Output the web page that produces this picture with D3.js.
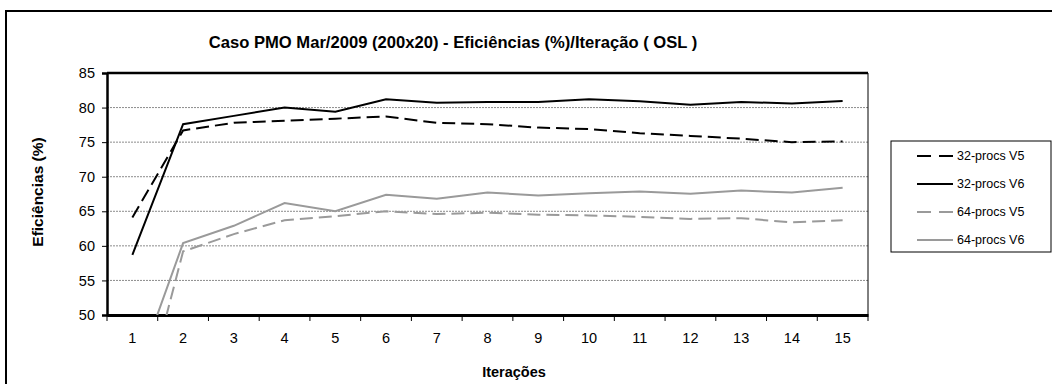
<!DOCTYPE html>
<html><head><meta charset="utf-8">
<script src="https://cdn.jsdelivr.net/npm/d3@7"></script>
<style>body{margin:0;background:#fff}svg{display:block;font-family:"Liberation Sans",Arial,sans-serif}</style>
</head><body><svg id="c" width="1052" height="384"></svg>
<script>
const categories = ["1","2","3","4","5","6","7","8","9","10","11","12","13","14","15"];
const procs32V5 = [64.1, 76.7, 77.8, 78.1, 78.4, 78.7, 77.8, 77.6, 77.1, 76.9, 76.3, 75.9, 75.5, 75.0, 75.1];
const procs32V6 = [58.7, 77.6, 78.8, 80.0, 79.4, 81.2, 80.7, 80.8, 80.8, 81.2, 80.9, 80.4, 80.8, 80.6, 80.95];
const procs64V5 = [31.0, 59.2, 61.7, 63.7, 64.3, 65.0, 64.6, 64.8, 64.5, 64.4, 64.2, 63.9, 64.0, 63.4, 63.7];
const procs64V6 = [40.0, 60.4, 62.9, 66.2, 65.0, 67.4, 66.8, 67.7, 67.3, 67.6, 67.85, 67.55, 68.0, 67.7, 68.4];
const yTicks = [50, 55, 60, 65, 70, 75, 80, 85];
const seriesNames = ["32-procs V5", "32-procs V6", "64-procs V5", "64-procs V6"];
const titleText = "Caso PMO Mar/2009 (200x20) - Eficiências (%)/Iteração ( OSL )";
const yTitle = "Eficiências (%)";
const xTitle = "Iterações";

const svg = d3.select("#c");
const L = 107, R = 868, T = 73, B = 315;
const x = d3.scaleBand().domain(categories).range([L, R]).padding(0);
const y = d3.scaleLinear().domain([50, 85]).range([B, T]);
const cx = c => x(c) + x.bandwidth() / 2;

// outer border
svg.append("rect").attr("x", 6).attr("y", 11).attr("width", 1100).attr("height", 400)
  .attr("fill", "none").attr("stroke", "#000").attr("stroke-width", 2);

// title
svg.append("text").attr("x", 453).attr("y", 48).attr("text-anchor", "middle")
  .attr("font-size", 16.6).attr("font-weight", "bold").text(titleText);

// gridlines
svg.append("g").selectAll("line").data(yTicks.filter(t => t > 50 && t < 85)).join("line")
  .attr("x1", L).attr("x2", R).attr("y1", d => y(d)).attr("y2", d => y(d))
  .attr("stroke", "#8c8c8c").attr("stroke-width", 1).attr("stroke-dasharray", "2,1");

// plot frame
svg.append("line").attr("x1", L).attr("x2", R).attr("y1", T).attr("y2", T).attr("stroke", "#000").attr("stroke-width", 2.5);
svg.append("line").attr("x1", R).attr("x2", R).attr("y1", T).attr("y2", B).attr("stroke", "#000").attr("stroke-width", 1);

// clip
svg.append("defs").append("clipPath").attr("id", "clip").append("rect")
  .attr("x", L).attr("y", T).attr("width", R - L).attr("height", B - T);

// y axis
const yAxis = svg.append("g").attr("transform", `translate(${L},0)`)
  .call(d3.axisLeft(y).tickValues(yTicks).tickSize(5).tickPadding(7));
yAxis.select(".domain").attr("stroke-width", 2.5);
yAxis.selectAll("text").attr("font-size", 14.5).attr("fill", "#000").attr("font-family", "Liberation Sans, Arial");

// x axis
const xAxis = svg.append("g").attr("transform", `translate(0,${B})`)
  .call(d3.axisBottom(x).tickSize(0).tickPadding(18));
xAxis.select(".domain").attr("stroke-width", 3);
xAxis.selectAll("text").attr("font-size", 14.5).attr("fill", "#000").attr("font-family", "Liberation Sans, Arial");
svg.append("g").selectAll("line").data(categories.concat(["end"])).join("line")
  .attr("x1", (d, i) => i < categories.length ? x(d) : R)
  .attr("x2", (d, i) => i < categories.length ? x(d) : R)
  .attr("y1", B).attr("y2", B + 6).attr("stroke", "#000").attr("stroke-width", 1);

// axis titles
svg.append("text").attr("transform", "translate(43,192) rotate(-90)").attr("text-anchor", "middle")
  .attr("font-size", 15.5).attr("font-weight", "bold").text(yTitle);
svg.append("text").attr("x", 514).attr("y", 377).attr("text-anchor", "middle")
  .attr("font-size", 14.5).attr("font-weight", "bold").text(xTitle);

// series
const styles = [
  {data: procs32V5, color: "#000", dash: "13,6"},
  {data: procs32V6, color: "#000", dash: null},
  {data: procs64V5, color: "#9a9a9a", dash: "13,6"},
  {data: procs64V6, color: "#9a9a9a", dash: null}
];
const line = d3.line().x((d, i) => cx(categories[i])).y(d => y(d));
const g = svg.append("g").attr("clip-path", "url(#clip)");
styles.forEach(s => {
  g.append("path").datum(s.data).attr("d", line).attr("fill", "none")
    .attr("stroke", s.color).attr("stroke-width", 2).attr("stroke-dasharray", s.dash);
});

// legend
const lg = svg.append("g");
lg.append("rect").attr("x", 891).attr("y", 141).attr("width", 160).attr("height", 111)
  .attr("fill", "#fff").attr("stroke", "#000").attr("stroke-width", 1);
const rowsY = [156, 184, 212, 240];
styles.forEach((s, i) => {
  lg.append("line").attr("x1", 917).attr("x2", 953).attr("y1", rowsY[i]).attr("y2", rowsY[i])
    .attr("stroke", s.color).attr("stroke-width", 2).attr("stroke-dasharray", s.dash ? "14,8" : null);
  lg.append("text").attr("x", 957).attr("y", rowsY[i] + 4).attr("font-size", 12.5).text(seriesNames[i]);
});
</script></body></html>
